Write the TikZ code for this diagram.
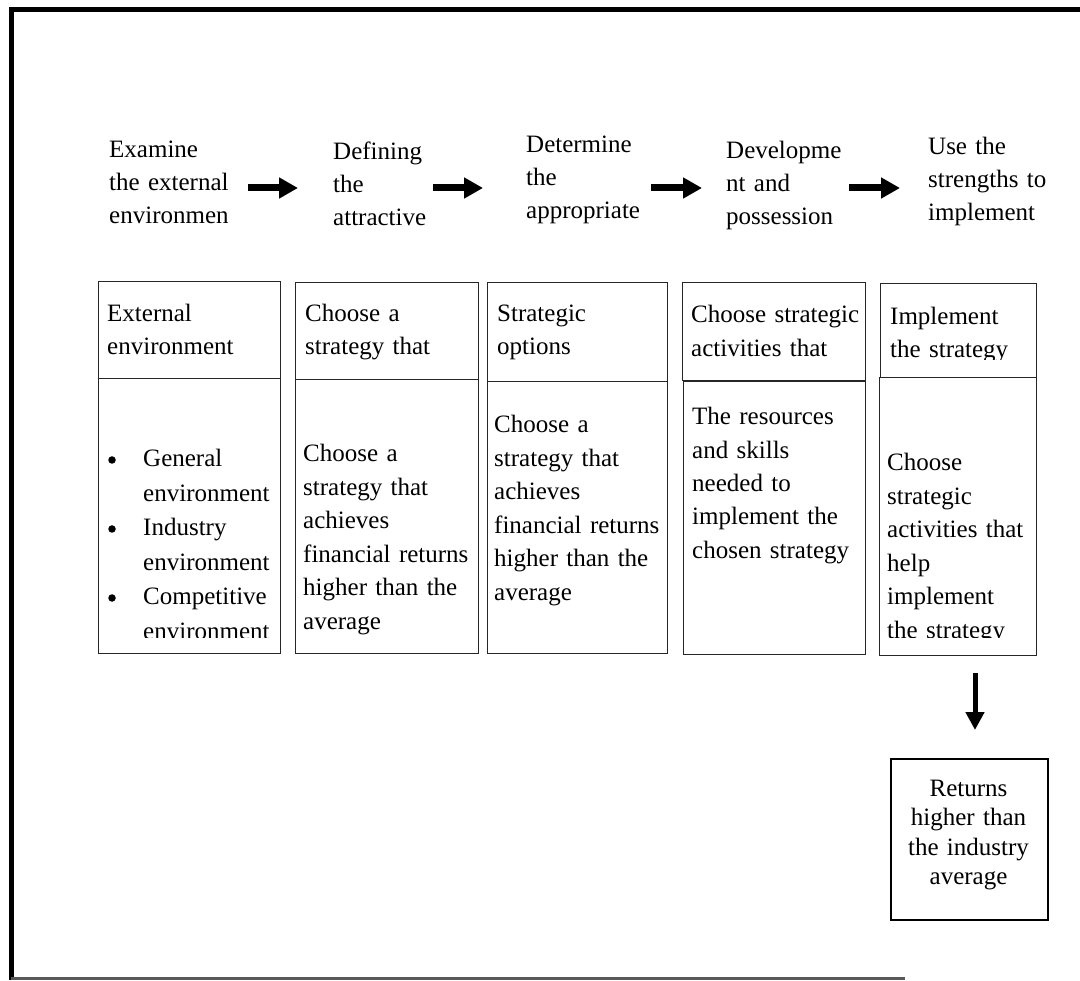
\documentclass[tikz,border=0pt]{standalone}
\usepackage{fontspec}
\setmainfont{Liberation Serif}
\usetikzlibrary{arrows.meta}
\begin{document}
\begin{tikzpicture}[x=1pt,y=-1pt,
  lbl/.style={anchor=base west, inner sep=0pt, text width=140pt, align=left,
    font=\fontsize{25}{33}\selectfont},
  boxtxt/.style={anchor=base west, inner sep=0pt, text width=176pt, align=left,
    font=\fontsize{25}{33.5}\selectfont},
  cell/.style={draw=black!85, line width=1.2pt, inner sep=0pt, anchor=north west},
  flowarrow/.style={line width=7pt, -{Triangle[length=19pt,width=20pt]}},
  downarrow/.style={line width=5pt, -{Triangle[length=18pt,width=18pt]}},
  bulletdot/.style={circle, fill=black, inner sep=0pt, minimum size=7.5pt}
]
\useasboundingbox (0,0) rectangle (1080,981);
\fill[white] (0,0) rectangle (1080,981);

% outer frame
\draw[line width=5pt] (9,9.5) -- (1080,9.5);
\draw[line width=4.5pt] (11.5,7) -- (11.5,980);
\draw[line width=2.5pt, black!65] (11,978.5) -- (905,978.5);

% top labels
\node[lbl] (t1) at (109,158) {Examine\\the external\\environmen};
\node[lbl] (t2) at (333,160) {Defining\\the\\attractive};
\node[lbl] (t3) at (526,153) {Determine\\the\\appropriate};
\node[lbl] (t4) at (726,159) {Developme\\nt and\\possession};
\node[lbl] (t5) at (928,155) {Use the\\strengths to\\implement};

% horizontal arrows
\coordinate (a1s) at (248,188); \coordinate (a1e) at (298,188);
\coordinate (a2s) at (433,188); \coordinate (a2e) at (483,188);
\coordinate (a3s) at (651,188); \coordinate (a3e) at (702,188);
\coordinate (a4s) at (849,188); \coordinate (a4e) at (900,188);
\draw[flowarrow] (a1s) -- (a1e);
\draw[flowarrow] (a2s) -- (a2e);
\draw[flowarrow] (a3s) -- (a3e);
\draw[flowarrow] (a4s) -- (a4e);

% header cells
\node[cell, minimum width=182pt, minimum height=97pt] (h1) at (98,281) {};
\node[cell, minimum width=183pt, minimum height=97pt] (h2) at (295,282) {};
\node[cell, minimum width=180pt, minimum height=99pt] (h3) at (487,282) {};
\node[cell, minimum width=183pt, minimum height=98pt] (h4) at (682,282) {};
\node[cell, minimum width=156pt, minimum height=94pt] (h5) at (880,283) {};

% body cells
\node[cell, minimum width=182pt, minimum height=275pt] (b1) at (98,378) {};
\node[cell, minimum width=183pt, minimum height=274pt] (b2) at (295,379) {};
\node[cell, minimum width=180pt, minimum height=272pt] (b3) at (487,381) {};
\node[cell, minimum width=182pt, minimum height=273pt] (b4) at (683,381) {};
\node[cell, minimum width=157pt, minimum height=278pt] (b5) at (879,377) {};

% header texts
\node[boxtxt, font=\fontsize{25}{33}\selectfont] (h1t) at (107,322) {External\\environment};
\node[boxtxt, font=\fontsize{25}{33}\selectfont] (h2t) at (305,322) {Choose a\\strategy that};
\node[boxtxt, font=\fontsize{25}{33}\selectfont] (h3t) at (497,322) {Strategic\\options};
\node[boxtxt, font=\fontsize{25}{34}\selectfont] (h4t) at (691,323) {Choose strategic\\activities that};
\begin{scope}
  \clip (880,283) rectangle (1036,360);
  \node[boxtxt, font=\fontsize{25}{33}\selectfont] (h5t) at (890,325) {Implement\\the strategy};
\end{scope}

% body texts
\begin{scope}
  \clip (98,378) rectangle (280,637);
  \node[boxtxt, font=\fontsize{25}{34.5}\selectfont] (b1t) at (143,467)
    {General\\environment\\Industry\\environment\\Competitive\\environment};
\end{scope}
\node[bulletdot] (d1) at (112,460) {};
\node[bulletdot] (d2) at (112,529) {};
\node[bulletdot] (d3) at (112,598) {};

\node[boxtxt] (b2t) at (303,462)
  {Choose a\\strategy that\\achieves\\financial returns\\higher than the\\average};
\node[boxtxt] (b3t) at (494,433)
  {Choose a\\strategy that\\achieves\\financial returns\\higher than the\\average};
\node[boxtxt, font=\fontsize{25}{33.3}\selectfont] (b4t) at (692,425)
  {The resources\\and skills\\needed to\\implement the\\chosen strategy};
\begin{scope}
  \clip (879,377) rectangle (1036,637.5);
  \node[boxtxt] (b5t) at (887,471)
    {Choose\\strategic\\activities that\\help\\implement\\the strategy};
\end{scope}

% down arrow and result box
\coordinate (vs) at (975,673);
\coordinate (ve) at (975,730);
\draw[downarrow] (vs) -- (ve);
\node[cell, draw=black, line width=1.5pt, minimum width=157pt, minimum height=161pt] (res) at (890,758) {};
\node[anchor=base, inner sep=0pt, text width=150pt, align=center,
  font=\fontsize{25}{29.5}\selectfont] (rest) at (968.5,796)
  {Returns\\higher than\\the industry\\average};
\end{tikzpicture}
\end{document}
